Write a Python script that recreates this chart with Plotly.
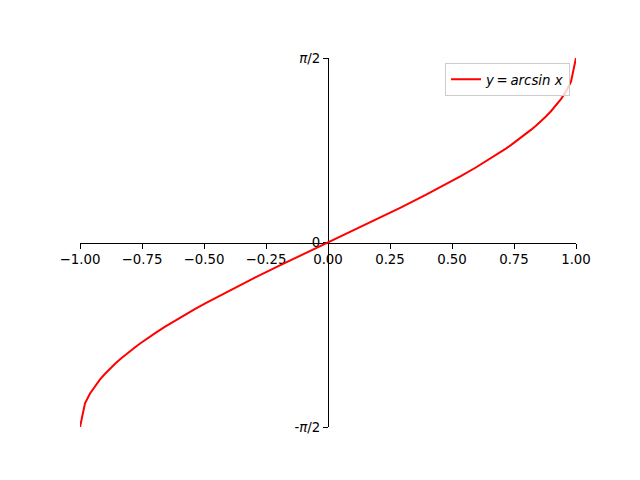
import plotly.graph_objects as go
import math

x_pos = [0.0101, 0.0909, 0.1919, 0.2929, 0.3939, 0.4949, 0.5354, 0.5960, 0.6566,
         0.6970, 0.7172, 0.7374, 0.7576, 0.7778, 0.7980, 0.8182, 0.8384, 0.8586,
         0.8788, 0.8990, 0.9192, 0.9394, 0.9596, 0.9798, 1.0]
y_pos = [0.0101, 0.0910, 0.1931, 0.2972, 0.4049, 0.5177, 0.5649, 0.6385, 0.7162,
         0.7710, 0.7997, 0.8292, 0.8597, 0.8911, 0.9239, 0.9585, 0.9943, 1.0324,
         1.0731, 1.1175, 1.1660, 1.2209, 1.2856, 1.3694, 1.5708]
x_neg = [-1.0, -0.9798, -0.9596, -0.9394, -0.9192, -0.8990, -0.8788, -0.8586,
         -0.8384, -0.8182, -0.7980, -0.7778, -0.7576, -0.7374, -0.7172, -0.6970,
         -0.6566, -0.5960, -0.5354, -0.4949, -0.3939, -0.2929, -0.1919, -0.0909, -0.0101]
y_neg = [-1.5708, -1.3694, -1.2856, -1.2209, -1.1660, -1.1175, -1.0731, -1.0324,
         -0.9943, -0.9585, -0.9239, -0.8911, -0.8597, -0.8292, -0.7997, -0.7710,
         -0.7162, -0.6385, -0.5649, -0.5177, -0.4049, -0.2972, -0.1931, -0.0910, -0.0101]

x_ticks = [-1.0, -0.75, -0.5, -0.25, 0.0, 0.25, 0.5, 0.75, 1.0]
x_ticklabels = ["\u22121.00", "\u22120.75", "\u22120.50", "\u22120.25", "0.00",
                "0.25", "0.50", "0.75", "1.00"]
y_ticks = [-math.pi / 2, 0, math.pi / 2]
y_ticklabels = ["-<i>\u03c0</i>/2", "0", "<i>\u03c0</i>/2"]

fig = go.Figure()
fig.add_trace(go.Scatter(
    x=x_neg + x_pos, y=y_neg + y_pos, mode="lines",
    line=dict(color="red", width=2),
    name="<i>y</i>\u2009=\u2009<i>arcsin x</i>",
))

font = dict(family="DejaVu Sans", size=13.33, color="black")
fig.update_layout(
    width=640, height=480,
    margin=dict(l=72, r=72, t=50, b=61, pad=0),
    paper_bgcolor="white", plot_bgcolor="white",
    font=font,
    showlegend=True,
    legend=dict(
        x=0.988, y=0.986, xanchor="right", yanchor="top",
        bgcolor="rgba(255,255,255,0.8)", bordercolor="#cccccc", borderwidth=1,
        font=dict(family="DejaVu Sans", size=13.33, color="black"),
        tracegroupgap=0,
    ),
    xaxis=dict(
        range=[-1, 1], anchor="free", position=0.5,
        showline=True, linecolor="black", linewidth=1,
        ticks="outside", ticklen=5, tickwidth=1, tickcolor="black",
        tickvals=x_ticks, ticktext=x_ticklabels,
        showgrid=False, zeroline=False, layer="below traces",
        tickfont=font,
    ),
    yaxis=dict(
        range=[-math.pi / 2, math.pi / 2], anchor="free", position=0.5,
        showline=True, linecolor="black", linewidth=1,
        ticks="outside", ticklen=5, tickwidth=1, tickcolor="black",
        tickvals=y_ticks, ticktext=y_ticklabels,
        showgrid=False, zeroline=False, layer="below traces",
        tickfont=font,
    ),
)

fig.write_html("out.html")
